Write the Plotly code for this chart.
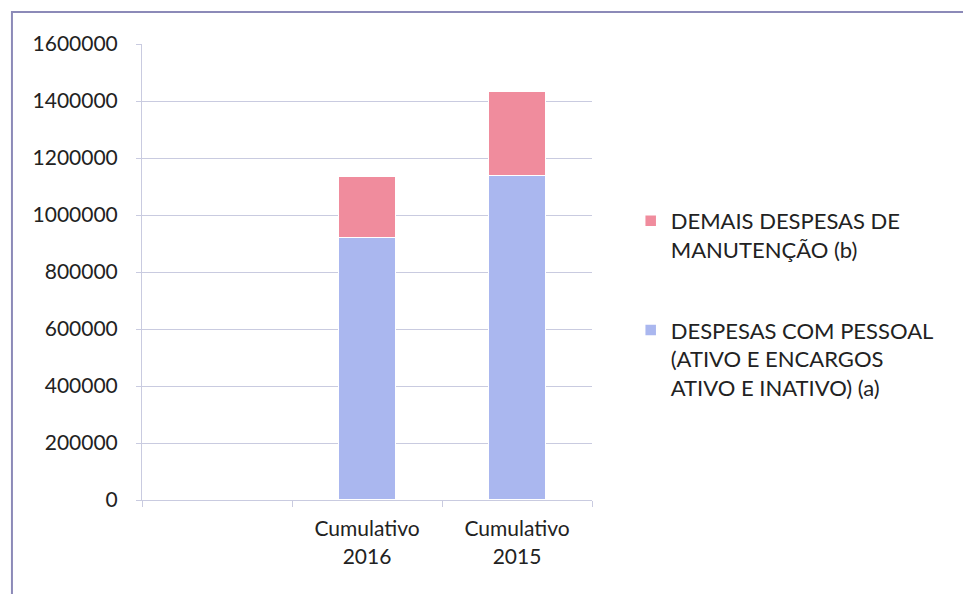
import plotly.graph_objects as go

# Categories (first slot intentionally blank)
categories = [" ", "Cumulativo<br>2016", "Cumulativo<br>2015"]
pessoal = [None, 921000, 1139000]      # DESPESAS COM PESSOAL (a)
manutencao = [None, 216000, 296000]    # DEMAIS DESPESAS DE MANUTENÇÃO (b)
y_ticks = [0, 200000, 400000, 600000, 800000, 1000000, 1200000, 1400000, 1600000]

name_a = "DESPESAS COM PESSOAL<br>(ATIVO E ENCARGOS<br>ATIVO E INATIVO) (a)"
name_b = "DEMAIS DESPESAS DE<br>MANUTENÇÃO (b)"

blue = "#AAB7EF"
red = "#F08C9D"
grid = "#C9CBE0"
txt = "#222222"

fig = go.Figure()
fig.add_trace(go.Bar(
    x=categories, y=pessoal, name=name_a, legendgroup="a", legendrank=2,
    marker=dict(color=blue, line=dict(color="white", width=1.5)),
    width=0.38,
))
fig.add_trace(go.Bar(
    x=categories, y=manutencao, name=name_b, legendgroup="b", legendrank=1,
    marker=dict(color=red, line=dict(color="white", width=1.5)),
    width=0.38,
))

fig.update_layout(
    barmode="stack",
    width=963, height=594,
    margin=dict(l=142, r=371, t=44, b=94),
    paper_bgcolor="white", plot_bgcolor="white",
    font=dict(family="Lato", size=21, color=txt),
    showlegend=True,
    legend=dict(
        x=1.086, y=0.658, xanchor="left", yanchor="top",
        traceorder="grouped", tracegroupgap=49,
        valign="top",
        font=dict(family="Lato", size=22, color=txt),
        itemwidth=30, bgcolor="rgba(0,0,0,0)",
    ),
    xaxis=dict(
        type="category", categoryorder="array", categoryarray=categories,
        range=[-0.5, 2.5], tickson="boundaries",
        ticks="outside", ticklen=6, tickcolor=grid,
        showline=True, linecolor=grid, linewidth=1,
        showgrid=False, ticklabelstandoff=10,
    ),
    yaxis=dict(
        range=[0, 1600000], tickvals=y_ticks,
        ticktext=[str(v) for v in y_ticks],
        ticks="outside", ticklen=5, tickcolor=grid,
        showline=True, linecolor=grid, linewidth=1,
        showgrid=True, gridcolor=grid, gridwidth=1,
        zeroline=False, ticklabelstandoff=14,
    ),
    shapes=[dict(
        type="rect", xref="paper", yref="paper",
        x0=-0.289, x1=1.86, y0=-0.22, y1=1.07,
        line=dict(color="#8C8AB8", width=2), layer="below",
    )],
)

fig.write_html("out.html")
